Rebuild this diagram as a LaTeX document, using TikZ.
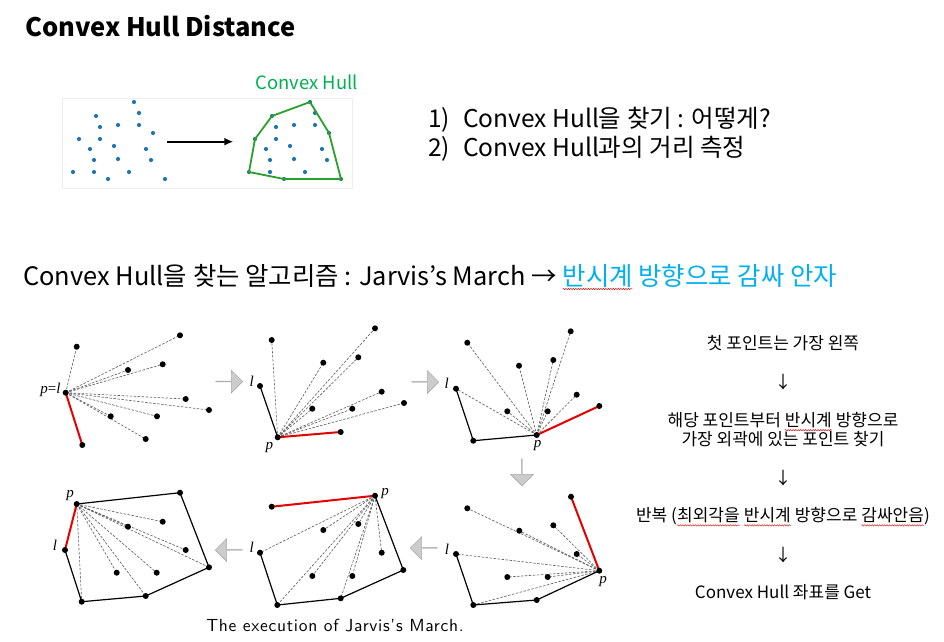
\documentclass[tikz,border=0pt]{standalone}
\usepackage{fontspec}
\setmainfont{Noto Sans CJK KR}
\newfontfamily\tms{Liberation Serif}
\newfontfamily\capfont{lmsans10-regular.otf}[LetterSpace=4]
\usetikzlibrary{arrows.meta,shapes.arrows,decorations.pathmorphing}
\definecolor{hullGreen}{RGB}{44,160,44}
\definecolor{pptGreen} {RGB}{0,176,80}
\definecolor{pptBlue}  {RGB}{0,176,240}
\definecolor{ptBlue}   {RGB}{31,119,180}

\tikzset{
  rayline/.style={gray!70!black,line width=0.6pt,dash pattern=on 2.5pt off 1.5pt},
  hulledge/.style={black,line width=1.2pt,line join=round},
  newedge/.style={red!90!black,line width=2pt},
  blockarrow/.style={single arrow,draw=gray!75,fill=gray!40,inner sep=0pt,
                     minimum height=27pt,minimum width=23pt,
                     single arrow head extend=5pt},
  squiggle/.style={red!85!black,line width=0.4pt,decorate,
                   decoration={snake,amplitude=0.7pt,segment length=2.5pt}},
  lbl/.style={font=\tms\itshape\fontsize{15}{15}\selectfont,inner sep=0pt},
  stepline/.style={font=\fontsize{17}{19.5}\selectfont,align=center,inner sep=0pt},
}
\newcommand\squig[1]{\tikz[baseline=(sq.base)]{\node[inner sep=0pt,outer sep=0pt](sq){#1};
  \draw[squiggle]([yshift=-4pt]sq.base west)--([yshift=-4pt]sq.base east);}}

\begin{document}
\begin{tikzpicture}[x=1pt,y=-1pt]
  \useasboundingbox[fill=white] (0,0) rectangle (944,641);

  \node[anchor=base west,inner sep=0pt,font=\bfseries\fontsize{25.5}{30}\selectfont]
    (title) at (25,36) {Convex Hull Distance};

  % ── scatter -> hull ─────────────────────────────────
  \draw[black!7] (61.7,98.3) rectangle (351.7,188.3);
  \foreach \x/\y in {134/102,96/116,139/113,100/127,118/125,139/125,153/133,
                     79/139,100/139,90/149,114/146,146/149,94/160,118/159,
                     151/160,73/172,94/172,129/172,108/179,165/179}{
    \fill[ptBlue] (\x,\y) circle (2.1);
    \fill[ptBlue] (\x+176,\y) circle (2.1);
  }
  \foreach \n/\x/\y in {1/73/172,2/79/139,3/96/116,4/134/102,5/153/133,6/165/179,7/108/179}
    \coordinate (H\n) at (\x+176,\y);
  \draw[hullGreen,line width=1.8pt,line join=round]
    (H1)--(H2)--(H3)--(H4)--(H5)--(H6)--(H7)--cycle;
  \coordinate (scatL) at (166.7,141.7);
  \coordinate (scatR) at (233.3,141.7);
  \draw[-{Latex[length=9pt,width=8pt]},line width=2.4pt] (scatL) -- (scatR);
  \node[pptGreen,font=\fontsize{18.4}{20}\selectfont] (hullname) at (306.7,82.7) {Convex Hull};

  \node[anchor=base west,inner sep=0pt,font=\fontsize{24.5}{29}\selectfont]
    (item1) at (428,127) {\makebox[35pt][l]{1)}Convex Hull을 찾기 : 어떻게?};
  \node[anchor=base west,inner sep=0pt,font=\fontsize{24.5}{29}\selectfont]
    (item2) at (428,156) {\makebox[35pt][l]{2)}Convex Hull과의 거리 측정};

  % ── heading ─────────────────────────────────────────
  \node[anchor=base west,inner sep=0pt,font=\fontsize{25.4}{30}\selectfont]
    (head) at (23,285) {Convex Hull을 찾는 알고리즘 : Jarvis’s March → \textcolor{pptBlue}{\squig{반시계} 방향으로 감싸 안자}};

  % ── panel 1 ─────────────────────────────────────────
  \foreach \n/\x/\y in {p/65.7/392.7,r/82.3/445,a/76.7/346.7,b/180/335.3,c/162.7/364.3,
                        d/128/370,e/185.7/399,f/209/410,g/157/416.3,h/110.7/416.3,i/145.7/439}
    \coordinate (A\n) at (\x,\y);
  \foreach \t in {a,b,c,d,e,f,g,h,i} \draw[rayline] (Ap) -- (A\t);
  \draw[newedge] (Ap) -- (Ar);
  \foreach \t in {p,r,a,b,c,d,e,f,g,h,i} \fill (A\t) circle (3);
  \node[lbl] (Alab) at (50.5,390) {p\textup{=}l};

  \node[blockarrow] (go1) at (229,381.5) {};

  % ── panel 2 ─────────────────────────────────────────
  \foreach \n/\x/\y in {p/277.7/437.3,l/260/386,r/340.7/432,a/271.7/340,b/323.3/362.7,
                        c/375/328.3,d/358.3/357.3,e/312.3/408.7,f/352.3/408.7,g/381.7/391.7,h/404/403}
    \coordinate (B\n) at (\x,\y);
  \foreach \t in {a,b,c,d,e,f,g,h} \draw[rayline] (Bp) -- (B\t);
  \draw[hulledge] (Bl) -- (Bp);
  \draw[newedge] (Bp) -- (Br);
  \foreach \t in {p,l,r,a,b,c,d,e,f,g,h} \fill (B\t) circle (3);
  \node[lbl] (Bll) at (251.7,381.7) {l};
  \node[lbl] (Bpl) at (269.3,448) {p};

  \node[blockarrow] (go2) at (425,382) {};

  % ── panel 3 ─────────────────────────────────────────
  \foreach \n/\x/\y in {p/536.7/435,l/456/388.7,q/473.3/440.7,r/599.3/406,a/467.3/342.7,
                        b/519/365.7,c/570.7/331.3,d/553.3/360,e/507.3/411.3,f/547.7/411.3,g/576.7/394.7}
    \coordinate (C\n) at (\x,\y);
  \foreach \t in {l,a,b,c,d,e,f,g} \draw[rayline] (Cp) -- (C\t);
  \draw[hulledge] (Cl) -- (Cq) -- (Cp);
  \draw[newedge] (Cp) -- (Cr);
  \foreach \t in {p,l,q,r,a,b,c,d,e,f,g} \fill (C\t) circle (3);
  \node[lbl] (Cll) at (446.7,383.3) {l};
  \node[lbl] (Cpl) at (537.5,446) {p};

  \node[blockarrow,rotate=-90] (go3) at (522,472) {};

  % ── panel 4 (bottom right) ──────────────────────────
  \foreach \n/\x/\y in {p/599.3/570.7,l/456/554,q/473.3/605,s/536.7/600,r/571/496.7,
                        a/467.3/508.3,b/519.3/530.7,c/553.3/525.3,d/576.7/554,e/507.3/577,f/547.7/577}
    \coordinate (F\n) at (\x,\y);
  \foreach \t in {l,a,b,c,d,e,f,q} \draw[rayline] (Fp) -- (F\t);
  \draw[hulledge] (Fl) -- (Fq) -- (Fs) -- (Fp);
  \draw[newedge] (Fp) -- (Fr);
  \foreach \t in {p,l,q,s,r,a,b,c,d,e,f} \fill (F\t) circle (3);
  \node[lbl] (Fll) at (447,549) {l};
  \node[lbl] (Fpl) at (603,582) {p};

  \node[blockarrow,rotate=180] (go4) at (424,548) {};

  % ── panel 5 (bottom middle) ─────────────────────────
  \foreach \n/\x/\y in {p/375/495.7,r/271.7/506.7,l/260/552.7,q/277.3/605,s/340.7/598.3,
                        t/403.3/570,a/323.3/530,b/358.3/524,c/381.7/552.7,d/312.3/576,e/352.3/576}
    \coordinate (E\n) at (\x,\y);
  \foreach \t in {l,a,b,c,d,e,q,s} \draw[rayline] (Ep) -- (E\t);
  \draw[hulledge] (El) -- (Eq) -- (Es) -- (Et) -- (Ep);
  \draw[newedge] (Ep) -- (Er);
  \foreach \t in {p,r,l,q,s,t,a,b,c,d,e} \fill (E\t) circle (3);
  \node[lbl] (Ell) at (251.7,547) {l};
  \node[lbl] (Epl) at (385,494) {p};

  \node[blockarrow,rotate=180] (go5) at (229,550) {};

  % ── panel 6 (bottom left) ───────────────────────────
  \foreach \n/\x/\y in {p/76.7/504,l/65/550,q/81.7/601.7,s/145.7/596,t/209/567.3,u/180/492.7,
                        a/162.7/521.7,b/128/526.7,c/185.7/550,d/156.7/572.7,e/116.7/572.7}
    \coordinate (D\n) at (\x,\y);
  \foreach \t in {a,b,c,d,e,t,s,q} \draw[rayline] (Dp) -- (D\t);
  \draw[hulledge] (Dp) -- (Du) -- (Dt) -- (Ds) -- (Dq) -- (Dl);
  \draw[newedge] (Dl) -- (Dp);
  \foreach \t in {p,l,q,s,t,u,a,b,c,d,e} \fill (D\t) circle (3);
  \node[lbl] (Dpl) at (70,496) {p};
  \node[lbl] (Dll) at (55,545) {l};

  \node[font=\capfont\fontsize{17.5}{20}\selectfont] (caption) at (335,626)
    {The execution of Jarvis’s March.};

  % ── steps ───────────────────────────────────────────
  \node[stepline] (s1) at (783,343) {첫 포인트는 가장 왼쪽};
  \node[stepline] (d1) at (783,381.7) {↓};
  \node[stepline] (s2) at (783,429.5) {해당 포인트부터 \squig{반시계} 방향으로\\가장 외곽에 있는 포인트 찾기};
  \node[stepline] (d2) at (783,478) {↓};
  \node[stepline] (s3) at (783,516.7) {반복 (\squig{최외각을} \squig{반시계} 방향으로 \squig{감싸안음})};
  \node[stepline] (d3) at (783,555) {↓};
  \node[stepline] (s4) at (783,591.7) {Convex Hull 좌표를 Get};
\end{tikzpicture}
\end{document}
